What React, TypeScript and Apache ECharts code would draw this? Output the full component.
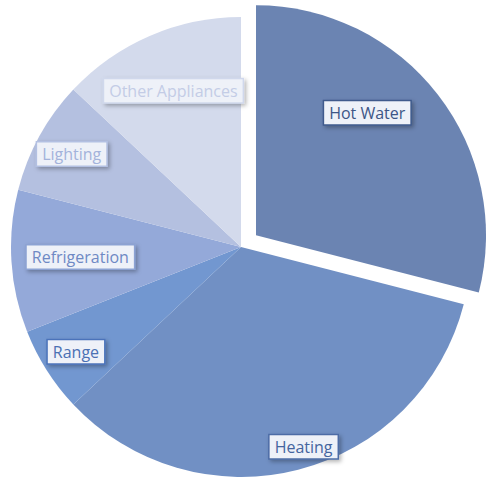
import React, { useEffect, useRef } from "react";
import * as echarts from "echarts";

// ---- data ----
const categories = ["Hot Water", "Heating", "Range", "Refrigeration", "Lighting", "Other Appliances"];
const values = [29, 34, 6, 10, 8, 13];
const explodedCategory = "Hot Water";

// ---- styles ----
const sliceColors = ["#6b84b2", "#7190c4", "#7297d0", "#94a9d9", "#b4c0e0", "#d3daec"];
const labelTextColors = ["#3d5687", "#45659f", "#4a70b3", "#6f89c4", "#a3b3db", "#c3cce6"];
const labelBorderColors = ["#3f5a8c", "#4d6ca6", "#4b73ba", "#8ca2d3", "#b3c0e2", "#d0d8ec"];
const labelRadiusFactor = [0.72, 0.91, 0.85, 0.7, 0.84, 0.74];
const labelAngleShift = [-10, -3, 0, 0, 0, 0];

const CX = 241;
const CY = 247;
const R = 230;
const OFFSET = 19;

export default function App() {
  const ref = useRef<HTMLDivElement>(null);
  useEffect(() => {
    if (!ref.current) return;
    const chart = echarts.init(ref.current, undefined, { renderer: "svg" });
    const total = values.reduce((a, b) => a + b, 0);
    const startFrac: number[] = [];
    let acc = 0;
    values.forEach((v) => {
      startFrac.push(acc / total);
      acc += v;
    });
    const midAngle = (i: number) => (startFrac[i] + values[i] / total / 2) * Math.PI * 2;
    const exIdx = categories.indexOf(explodedCategory);
    const exMid = midAngle(exIdx);
    const exCenter = [CX + Math.sin(exMid) * OFFSET, CY - Math.cos(exMid) * OFFSET];

    const baseLabel = {
      show: true,
      position: "inside",
      formatter: "{b}",
      fontFamily: "Open Sans",
      fontSize: 16,
      lineHeight: 20,
      backgroundColor: "#eef1f8",
      borderWidth: 1.5,
      padding: [2, 5, 1, 5],
      shadowColor: "rgba(0,0,0,0.3)",
      shadowBlur: 4,
      shadowOffsetX: 2,
      shadowOffsetY: 2,
    };

    const makeData = (exploded: boolean) =>
      categories.map((name, i) => {
        const visible = (name === explodedCategory) === exploded;
        return {
          name,
          value: values[i],
          itemStyle: { color: visible ? sliceColors[i] : "rgba(0,0,0,0)" },
          label: visible
            ? { show: true, color: labelTextColors[i], borderColor: labelBorderColors[i] }
            : { show: false },
        };
      });

    const makeLayout = (cx: number, cy: number) => (params: any) => {
      const i = params.dataIndex;
      const mid = midAngle(i) + (labelAngleShift[i] * Math.PI) / 180;
      const d = labelRadiusFactor[i] * R;
      return { x: cx + Math.sin(mid) * d, y: cy - Math.cos(mid) * d };
    };

    const common = {
      type: "pie",
      radius: R,
      startAngle: 90,
      clockwise: true,
      silent: true,
      avoidLabelOverlap: false,
      emphasis: { disabled: true },
      label: baseLabel,
      labelLine: { show: false },
    };

    chart.setOption({
      animation: false,
      series: [
        {
          ...common,
          center: [CX, CY],
          labelLayout: makeLayout(CX, CY),
          data: makeData(false),
        },
        {
          ...common,
          center: exCenter,
          labelLayout: makeLayout(exCenter[0], exCenter[1]),
          data: makeData(true),
        },
      ],
    });
    return () => chart.dispose();
  }, []);
  return (
    <div
      ref={ref}
      style={{ position: "fixed", left: 0, top: 0, width: 488, height: 477, background: "#ffffff" }}
    />
  );
}
